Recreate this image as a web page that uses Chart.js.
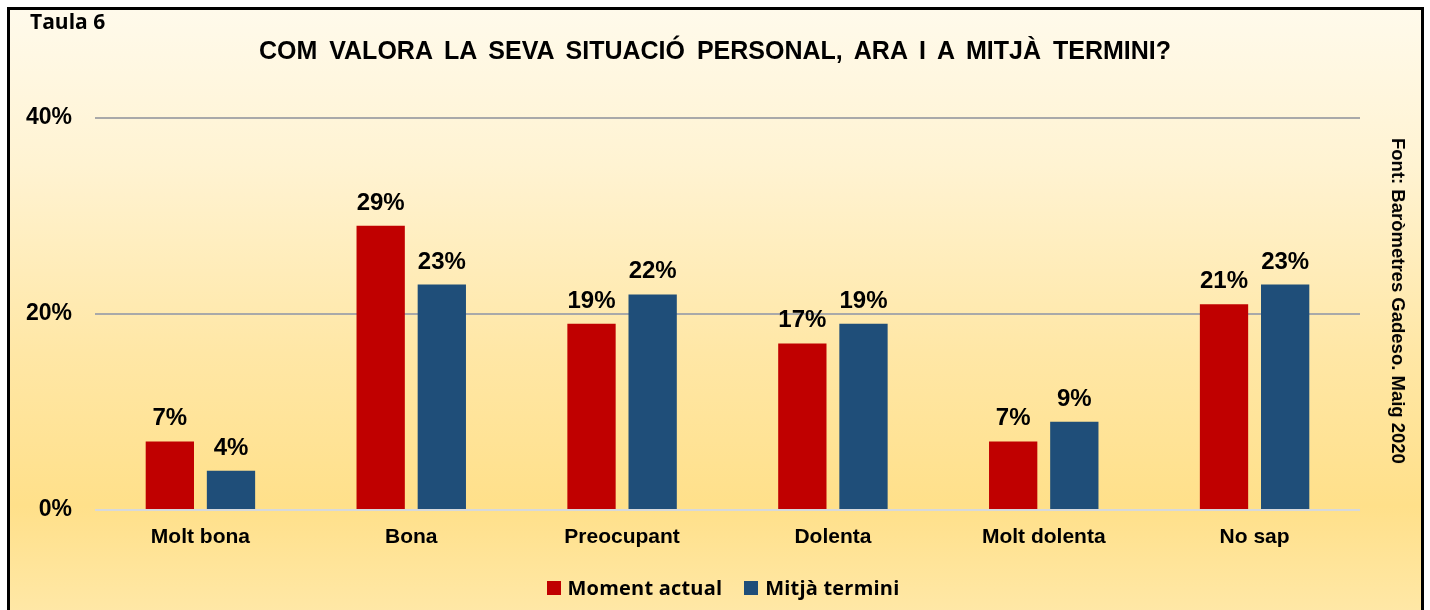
<!DOCTYPE html>
<html>
<head>
<meta charset="utf-8">
<script src="https://cdn.jsdelivr.net/npm/chart.js@4"></script>
<style>
  html, body { margin: 0; padding: 0; width: 1430px; height: 610px; overflow: hidden; background: #fff; }
  #frame {
    position: absolute; left: 7px; top: 7px; width: 1411px; height: 620px;
    border: 3px solid #000;
    background: linear-gradient(to bottom, #fffaeb 0%, #fff3d2 25%, #ffe7a6 55%, #ffe08a 80%, #ffe9ab 100%);
  }
  #chart { position: absolute; left: 0; top: 0; }
  .txt { position: absolute; font-family: "Liberation Sans", Arial, sans-serif; font-weight: bold; color: #000; white-space: nowrap; }
  #taula { left: 30px; top: 7px; font-family: "Open Sans", sans-serif; font-size: 21px; }
  #title { left: 0; width: 1430px; top: 36px; text-align: center; font-size: 25px; word-spacing: 5px; }
  #source { left: 1398px; top: 301px; font-size: 18.5px; transform: translate(-50%, -50%) rotate(90deg); }
  #legend { position: absolute; top: 574px; left: 8px; width: 1430px; text-align: center; font-family: "Open Sans", sans-serif; font-weight: bold; font-size: 20px; letter-spacing: 0.2px; }
  #legend span.item { margin: 0 11px; }
  #legend span.box { display: inline-block; width: 14px; height: 14px; margin-right: 7px; vertical-align: 0px; }
</style>
</head>
<body>
<div id="frame"></div>
<canvas id="chart" width="1430" height="610"></canvas>
<div class="txt" id="taula">Taula 6</div>
<div class="txt" id="title">COM VALORA LA SEVA SITUACIÓ PERSONAL, ARA I A MITJÀ TERMINI?</div>
<div class="txt" id="source">Font: Baròmetres Gadeso. Maig 2020</div>
<div id="legend"></div>
<script>
const categories = ["Molt bona", "Bona", "Preocupant", "Dolenta", "Molt dolenta", "No sap"];
const seriesNames = ["Moment actual", "Mitjà termini"];
const momentActual = [7, 29, 19, 17, 7, 21];
const mitjaTermini = [4, 23, 22, 19, 9, 23];
const seriesColors = ["#C00000", "#1F4E79"];
const yTicks = [0, 20, 40];

const labelFont = '"Liberation Sans", Arial, sans-serif';

// value labels above each bar
const barLabels = {
  id: "barLabels",
  afterDatasetsDraw(chart) {
    const ctx = chart.ctx;
    ctx.save();
    ctx.font = "bold 24px " + labelFont;
    ctx.fillStyle = "#000";
    ctx.textAlign = "center";
    ctx.textBaseline = "alphabetic";
    chart.data.datasets.forEach((ds, i) => {
      chart.getDatasetMeta(i).data.forEach((bar, j) => {
        ctx.fillText(ds.data[j] + "%", bar.x, bar.y - 16);
      });
    });
    ctx.restore();
  }
};

new Chart(document.getElementById("chart"), {
  type: "bar",
  data: {
    labels: categories,
    datasets: [
      { label: seriesNames[0], data: momentActual, backgroundColor: seriesColors[0] },
      { label: seriesNames[1], data: mitjaTermini, backgroundColor: seriesColors[1] }
    ]
  },
  options: {
    responsive: false,
    animation: false,
    categoryPercentage: 0.58,
    barPercentage: 0.79,
    layout: { padding: { left: 0, right: 70, top: 118, bottom: 0 } },
    plugins: { legend: { display: false }, tooltip: { enabled: false } },
    scales: {
      x: {
        afterFit(scale) { scale.height = 100; },
        grid: { display: false, drawTicks: false },
        border: { display: false },
        ticks: { padding: 15, color: "#000", font: { family: labelFont, weight: "bold", size: 21 } }
      },
      y: {
        min: 0, max: 40,
        afterFit(scale) { scale.width = 95; },
        afterBuildTicks(scale) { scale.ticks = yTicks.map(v => ({ value: v })); },
        grid: {
          drawTicks: false,
          color: ctx => ctx.tick && ctx.tick.value === 0 ? "#d6d9dc" : "#a9a9a9",
          lineWidth: 2
        },
        border: { display: false },
        ticks: {
          padding: 23, color: "#000",
          font: { family: labelFont, weight: "bold", size: 23 },
          callback: v => v + "%"
        }
      }
    }
  },
  plugins: [barLabels]
});

// legend from the series arrays
document.getElementById("legend").innerHTML = seriesNames.map((n, i) =>
  '<span class="item"><span class="box" style="background:' + seriesColors[i] + '"></span>' + n + '</span>'
).join("");
</script>
</body>
</html>
